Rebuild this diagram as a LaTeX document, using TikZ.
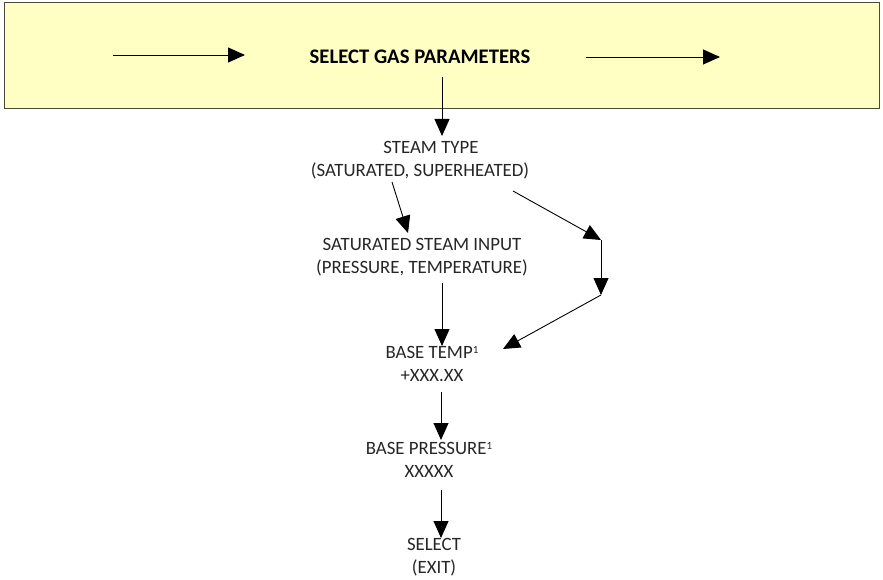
\documentclass[tikz,border=0pt]{standalone}
\usepackage{fontspec}
\setmainfont{Carlito}
\usetikzlibrary{arrows.meta}
\definecolor{bannerfill}{HTML}{FFFFC4}
\definecolor{bannerline}{HTML}{4A4A3A}
\newcommand{\supone}{\raisebox{5pt}{\fontsize{11}{11}\selectfont 1}}
\begin{document}
\begin{tikzpicture}[x=1pt,y=-1pt,
  arr/.style={draw=black,line width=0.9pt,-{Triangle[length=17pt,width=15pt]}},
  lbl/.style={align=center,inner sep=0pt,font=\fontsize{18.8}{22.5}\selectfont,text=black!85}
]
\useasboundingbox (0,0) rectangle (883,580);
\node[draw=bannerline,line width=1pt,fill=bannerfill,minimum width=875pt,minimum height=106pt,inner sep=0pt] (banner) at (442,56) {};
\node[inner sep=0pt,font=\fontsize{20.7}{24}\bfseries\selectfont] (title) at (420,57) {SELECT GAS PARAMETERS};
\coordinate (la) at (113,55);
\coordinate (lb) at (245,55);
\coordinate (ra) at (586,57);
\coordinate (rb) at (720,57);
\draw[arr] (la) -- (lb);
\draw[arr] (ra) -- (rb);
\node[lbl] (steam) at (420,160) {\hspace*{22pt}STEAM TYPE\\(SATURATED, SUPERHEATED)};
\node[lbl] (sat) at (422,257) {SATURATED STEAM INPUT\\(PRESSURE, TEMPERATURE)};
\node[lbl] (temp) at (432,364) {BASE TEMP\supone\\+XXX.XX};
\node[lbl] (pres) at (429,460) {BASE PRESSURE\supone\\XXXXX};
\node[lbl] (sel) at (434,557) {SELECT\\(EXIT)};
\coordinate (v0) at (442,77);
\coordinate (b1) at (601,240);
\coordinate (b2) at (601,295);
\draw[arr] (v0) -- (442,136);
\draw[arr] (392,182) -- (408,233);
\draw[arr] (513,191) -- (b1);
\draw[arr] (b1) -- (b2);
\draw[arr] (b2) -- (503,349);
\draw[arr] (442,283) -- (442,346);
\draw[arr] (441,392) -- (441,440);
\draw[arr] (441,490) -- (441,538);
\end{tikzpicture}
\end{document}
